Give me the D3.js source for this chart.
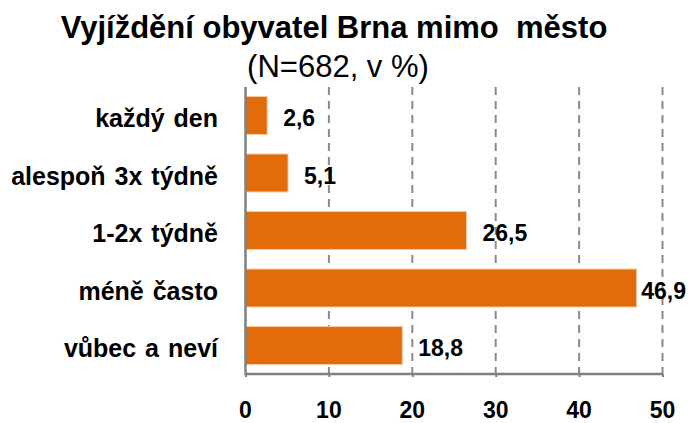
<!DOCTYPE html>
<html>
<head>
<meta charset="utf-8">
<script src="https://cdn.jsdelivr.net/npm/d3@7"></script>
<style>
  html, body { margin: 0; padding: 0; background: #fff; }
  svg { display: block; font-family: "Liberation Sans", Arial, sans-serif; }
</style>
</head>
<body>
<svg id="chart" width="688" height="423"></svg>
<script>
const categories = ["každý den", "alespoň 3x týdně", "1-2x týdně", "méně často", "vůbec a neví"];
const values = [2.6, 5.1, 26.5, 46.9, 18.8];
const valueLabels = ["2,6", "5,1", "26,5", "46,9", "18,8"];
const tickValues = [0, 10, 20, 30, 40, 50];
const titleText = "Vyjíždění obyvatel Brna mimo\u00a0 město";
const subtitleText = "(N=682, v %)";

(function () {
const svg = d3.select("#chart");
const pLeft = 245.5, pRight = 662.5, pTop = 87, pBottom = 374;

const x = d3.scaleLinear().domain([0, 50]).range([pLeft, pRight]);
const y = d3.scaleBand().domain(categories).range([pTop, pBottom]).paddingInner(0.34).paddingOuter(0.165);

// title
svg.append("text").attr("x", 334).attr("y", 38).attr("text-anchor", "middle")
  .attr("font-size", 31).attr("font-weight", "bold").attr("fill", "#000").text(titleText);
svg.append("text").attr("x", 338).attr("y", 77).attr("text-anchor", "middle")
  .attr("font-size", 31).attr("fill", "#000").text(subtitleText);

// gridlines
svg.append("g").selectAll("line").data(tickValues.filter(d => d > 0)).join("line")
  .attr("x1", d => x(d)).attr("x2", d => x(d))
  .attr("y1", pTop).attr("y2", pBottom)
  .attr("stroke", "#8a8a8a").attr("stroke-width", 2).attr("stroke-dasharray", "8,6");

// bars
svg.append("g").selectAll("rect").data(values).join("rect")
  .attr("x", x(0))
  .attr("y", (d, i) => y(categories[i]))
  .attr("width", d => x(d) - x(0))
  .attr("height", y.bandwidth())
  .attr("fill", "#E36C0A")
  .attr("stroke", "#F8C8A0").attr("stroke-width", 1);

// axes lines
const xAxis = d3.axisBottom(x).tickValues(tickValues).tickSize(3).tickFormat("");
const gx = svg.append("g").attr("transform", `translate(0,${pBottom})`).call(xAxis);
gx.select(".domain").attr("stroke", "#808080").attr("stroke-width", 2.5)
  .attr("d", `M${pLeft},0H${pRight}`);
gx.selectAll(".tick line").attr("stroke", "#808080").attr("stroke-width", 2);

const yAxis = d3.axisLeft(y).tickSize(0).tickFormat("");
const gy = svg.append("g").attr("transform", `translate(${pLeft},0)`).call(yAxis);
gy.select(".domain").attr("stroke", "#808080").attr("stroke-width", 2.5)
  .attr("d", `M0,${pTop}V${pBottom + 1}`);

// tick labels
svg.append("g").selectAll("text").data(tickValues).join("text")
  .attr("x", d => x(d)).attr("y", 418).attr("text-anchor", "middle")
  .attr("font-size", 23).attr("font-weight", "bold").attr("fill", "#000")
  .text(d => d);

// category labels
svg.append("g").selectAll("text").data(categories).join("text")
  .attr("x", 218).attr("y", d => y(d) + y.bandwidth() / 2).attr("dy", "0.47em")
  .attr("text-anchor", "end").attr("font-size", 25).attr("font-weight", "bold")
  .attr("word-spacing", 2).attr("fill", "#000")
  .text(d => d);

// value labels
svg.append("g").selectAll("text").data(values).join("text")
  .attr("y", (d, i) => y(categories[i]) + y.bandwidth() / 2).attr("dy", "0.46em")
  .attr("font-size", 23).attr("font-weight", "bold").attr("fill", "#000")
  .text((d, i) => valueLabels[i])
  .attr("x", function (d) {
    const w = this.getComputedTextLength();
    return Math.min(x(d) + 16, 686 - w);
  });
})();
</script>
</body>
</html>
